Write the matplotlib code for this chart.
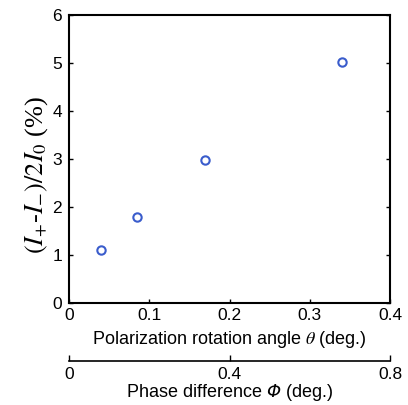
import matplotlib
matplotlib.use("Agg")
import matplotlib.pyplot as plt

# data
theta = [0.04, 0.085, 0.17, 0.34]      # polarization rotation angle (deg.)
ratio = [1.1, 1.8, 2.97, 5.02]         # (I+ - I-)/2I0 (%)
x_ticks = [0, 0.1, 0.2, 0.3, 0.4]
y_ticks = [0, 1, 2, 3, 4, 5, 6]
phi_ticks = [0, 0.4, 0.8]

plt.rcParams["font.family"] = ["Liberation Sans", "DejaVu Sans"]
plt.rcParams["mathtext.fontset"] = "stix"
# custom math font only used for the italic Phi
plt.rcParams["mathtext.rm"] = "DejaVu Sans:italic"
plt.rcParams["mathtext.it"] = "DejaVu Sans:italic"

fig = plt.figure(figsize=(4.08, 4.05), dpi=100)
ax = fig.add_axes([0.169, 0.252, 0.787, 0.711])

ax.plot(theta, ratio, "o", mfc="none", mec="#3a5ccc", ms=6, mew=1.5)

ax.set_xlim(0, 0.4)
ax.set_ylim(0, 6)
ax.set_xticks(x_ticks)
ax.set_xticklabels(["0", "0.1", "0.2", "0.3", "0.4"])
ax.set_yticks(y_ticks)
ax.tick_params(direction="in", top=True, right=True, length=3, width=1,
               labelsize=12.5)
ax.tick_params(axis="x", pad=4)
ax.tick_params(axis="y", pad=5)
for s in ax.spines.values():
    s.set_linewidth(1.5)

ax.set_xlabel(r"Polarization rotation angle $\theta$ (deg.)", fontsize=13, labelpad=4)
ax.set_ylabel(r"$(I_{+}$-$I_{-})/2I_0$ (%)", fontsize=19,
              family=["Liberation Serif", "DejaVu Serif"])
ax.yaxis.set_label_coords(-0.06, 0.444)

# second x axis for phase difference
ax2 = ax.twiny()
ax2.set_xlim(0, 0.8)
ax2.set_xticks(phi_ticks)
ax2.set_xticklabels(["0", "0.4", "0.8"])
ax2.xaxis.set_ticks_position("bottom")
ax2.xaxis.set_label_position("bottom")
ax2.spines["bottom"].set_position(("outward", 42))
for k in ["top", "left", "right"]:
    ax2.spines[k].set_visible(False)
ax2.spines["bottom"].set_linewidth(1.2)
ax2.tick_params(direction="in", length=4, width=1, labelsize=12.5, pad=4)
ax2.set_xlabel(r"Phase difference $\Phi$ (deg.)", fontsize=13, labelpad=0,
               math_fontfamily="custom")

fig.savefig("out.png", dpi=100)
